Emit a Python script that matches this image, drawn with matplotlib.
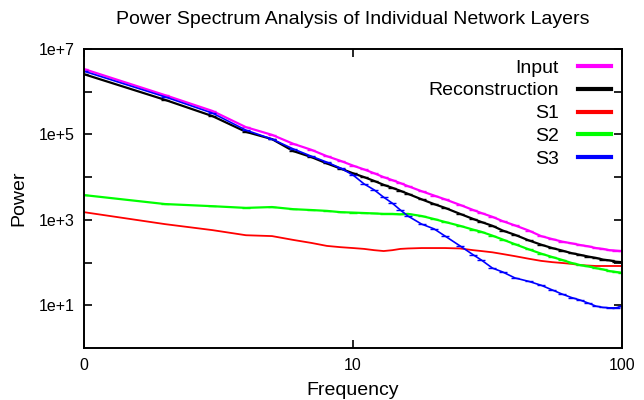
import numpy as np
import matplotlib
matplotlib.use("Agg")
import matplotlib.pyplot as plt
from matplotlib.lines import Line2D
from matplotlib.ticker import FixedLocator, NullLocator

plt.rcParams['font.family'] = ['Liberation Sans', 'DejaVu Sans']

# frequencies
freq = [1, 2, 3, 4, 5, 6, 7, 8, 9, 10, 11, 12, 13, 14, 15, 16, 18, 20, 22, 25,
        28, 30, 33, 36, 40, 45, 50, 55, 60, 65, 70, 75, 80, 85, 90, 95, 100]

# log10(power)
input_log = [6.53, 5.92, 5.55, 5.17, 4.99, 4.78, 4.64, 4.49, 4.38, 4.27, 4.18, 4.09,
             4.00, 3.93, 3.86, 3.79, 3.67, 3.57, 3.48, 3.35, 3.23, 3.16, 3.07, 2.97,
             2.87, 2.75, 2.62, 2.55, 2.49, 2.45, 2.41, 2.38, 2.34, 2.32, 2.29, 2.28, 2.27]
recon_log = [6.41, 5.81, 5.43, 5.06, 4.89, 4.61, 4.47, 4.32, 4.20, 4.09, 4.00, 3.91,
             3.82, 3.75, 3.68, 3.61, 3.48, 3.37, 3.28, 3.14, 3.02, 2.95, 2.86, 2.75,
             2.65, 2.52, 2.42, 2.34, 2.28, 2.22, 2.18, 2.14, 2.11, 2.07, 2.05, 2.02, 2.01]
s1_log = [3.18, 2.90, 2.76, 2.64, 2.62, 2.53, 2.46, 2.39, 2.36, 2.34, 2.32, 2.29,
          2.27, 2.29, 2.32, 2.33, 2.34, 2.34, 2.34, 2.33, 2.29, 2.27, 2.24, 2.20,
          2.15, 2.09, 2.04, 2.01, 1.99, 1.97, 1.94, 1.93, 1.92, 1.92, 1.92, 1.92, 1.92]
s2_log = [3.58, 3.37, 3.32, 3.28, 3.30, 3.25, 3.23, 3.21, 3.18, 3.17, 3.16, 3.15,
          3.14, 3.14, 3.13, 3.14, 3.09, 3.02, 2.95, 2.86, 2.77, 2.72, 2.63, 2.54,
          2.43, 2.31, 2.21, 2.13, 2.06, 1.99, 1.94, 1.91, 1.87, 1.84, 1.80, 1.78, 1.76]
s3_log = [6.48, 5.88, 5.50, 5.10, 4.89, 4.66, 4.49, 4.35, 4.21, 4.05, 3.84, 3.70,
          3.53, 3.39, 3.23, 3.09, 2.90, 2.79, 2.62, 2.39, 2.18, 2.06, 1.87, 1.78,
          1.64, 1.56, 1.47, 1.36, 1.26, 1.18, 1.12, 1.05, 0.98, 0.95, 0.94, 0.94, 0.98]

names = ["Input", "Reconstruction", "S1", "S2", "S3"]
series = [input_log, recon_log, s1_log, s2_log, s3_log]
colors = ["#ff00ff", "#000000", "#ff0000", "#00ff00", "#0000ff"]
widths = [1.6, 1.6, 1.3, 1.6, 1.2]
with_caps = [True, True, False, True, True]

fig = plt.figure(figsize=(6.44, 4.0), dpi=100)
ax = fig.add_axes([84 / 644, 1 - 348 / 400, 538 / 644, 299 / 400])

for name, vals, c, w, caps in zip(names, series, colors, widths, with_caps):
    ax.plot(freq, 10 ** np.array(vals), color=c, lw=w,
            marker='_' if caps else None, ms=6, mew=1.0)

ax.set_xscale('log')
ax.set_yscale('log')
ax.set_xlim(1, 100)
ax.set_ylim(1, 1e7)

ax.xaxis.set_major_locator(FixedLocator([1, 10, 100]))
ax.set_xticklabels(["0", "10", "100"])
ax.xaxis.set_minor_locator(NullLocator())
ax.yaxis.set_major_locator(FixedLocator([1e1, 1e3, 1e5, 1e7]))
ax.set_yticklabels(["1e+1", "1e+3", "1e+5", "1e+7"])
ax.yaxis.set_minor_locator(FixedLocator([1e2, 1e4, 1e6]))

ax.tick_params(which='both', direction='in', length=6, width=1.2,
               top=True, right=True, labelsize=11.5, pad=7)
ax.tick_params(which='minor', labelleft=False)
for s in ax.spines.values():
    s.set_linewidth(1.4)

ax.set_xlabel("Frequency", fontsize=14, labelpad=7)
ax.set_ylabel("Power", fontsize=14, labelpad=8)
ax.set_title("Power Spectrum Analysis of Individual Network Layers", fontsize=14, pad=18)

handles = [Line2D([], [], color=c, lw=3) for c in colors]
ax.legend(handles, names, loc='upper right', markerfirst=False, frameon=False,
          fontsize=14, handlelength=1.7, handletextpad=1.0, labelspacing=0.27,
          borderpad=0, borderaxespad=0,
          bbox_to_anchor=(611 / 644, 1 - 59 / 400), bbox_transform=fig.transFigure)

fig.savefig("out.png", dpi=100)
